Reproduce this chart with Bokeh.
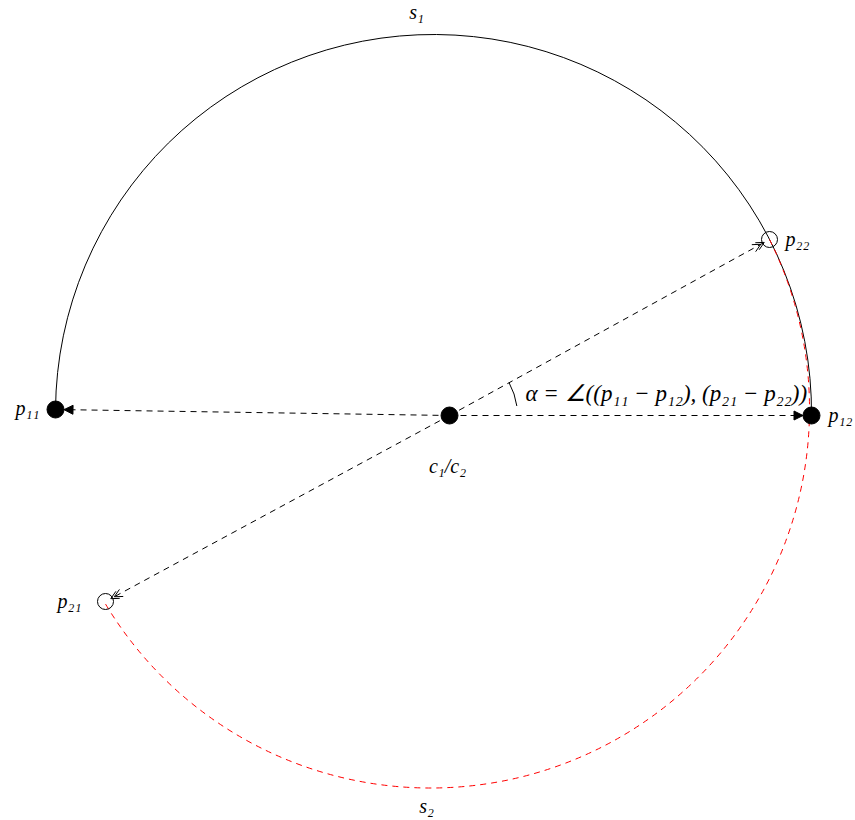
import numpy as np
from bokeh.plotting import figure
from bokeh.models import Range1d, Arrow, NormalHead, OpenHead
from bokeh.embed import file_html
from bokeh.resources import INLINE
from bokeh.core.properties import value

# ---- data (units = px, origin at c1/c2, y up) ----
c_xy = (0, 0)
p11_xy = (-394, 6)
p12_xy = (362, 0)
p21_xy = (-344, -186)
p22_xy = (320, 176)
s2_center = (-19, 6.5)

filled_names = ["c1/c2", "p11", "p12"]
filled_x = [c_xy[0], p11_xy[0], p12_xy[0]]
filled_y = [c_xy[1], p11_xy[1], p12_xy[1]]
open_names = ["p21", "p22"]
open_x = [p21_xy[0], p22_xy[0]]
open_y = [p21_xy[1], p22_xy[1]]

label_texts_center = ["s₁", "s₂", "c₁/c₂"]
label_texts_right = ["p₁₁", "p₂₁"]
label_texts_left = ["p₁₂", "p₂₂"]
angle_text = ["α = ∠((p₁₁ − p₁₂), (p₂₁ − p₂₂))"]

# ---- figure ----
p = figure(width=855, height=820, x_range=Range1d(-449, 406), y_range=Range1d(-405, 415),
           output_backend="svg", toolbar_location=None, min_border=0,
           x_axis_location=None, y_axis_location=None)
p.grid.visible = False
p.outline_line_color = None
p.background_fill_color = "white"

def ang(center, pt):
    return np.arctan2(pt[1] - center[1], pt[0] - center[0])

def unit(a, b):
    v = np.array(b, float) - np.array(a, float)
    return v / np.linalg.norm(v)

# s1: semicircle over the top from p12 to p11
m1 = ((p11_xy[0] + p12_xy[0]) / 2, (p11_xy[1] + p12_xy[1]) / 2)
r1 = np.hypot(p12_xy[0] - p11_xy[0], p12_xy[1] - p11_xy[1]) / 2
p.arc(x=[m1[0]], y=[m1[1]], radius=r1, start_angle=ang(m1, p12_xy), end_angle=ang(m1, p11_xy),
      direction="anticlock", line_color="black", line_width=1)

# s2: red dashed arc from p22 clockwise to p21
r2 = np.hypot(p22_xy[0] - s2_center[0], p22_xy[1] - s2_center[1])
p.arc(x=[s2_center[0]], y=[s2_center[1]], radius=r2, start_angle=ang(s2_center, p22_xy),
      end_angle=ang(s2_center, p21_xy), direction="clock", line_color="red",
      line_width=1, line_dash="6 5")

# angle marker
p.arc(x=[c_xy[0]], y=[c_xy[1]], radius=68, start_angle=0.14, end_angle=ang(c_xy, p22_xy),
      direction="anticlock", line_color="black", line_width=1)

# arrows c -> p11, c -> p12 (filled heads at dot edge)
for tgt in (p11_xy, p12_xy):
    u = unit(tgt, c_xy)
    end = np.array(tgt, float) + u * 8.5
    p.add_layout(Arrow(end=NormalHead(size=9, fill_color="black", line_color="black", line_width=1),
                       x_start=c_xy[0], y_start=c_xy[1], x_end=end[0], y_end=end[1],
                       line_color="black", line_width=1, line_dash="6 5"))

# arrows c -> p21, c -> p22 with double open heads
for tgt in (p21_xy, p22_xy):
    u = unit(tgt, c_xy)
    tip = np.array(tgt, float) + u * 6
    tip2 = tip + u * 4
    p.add_layout(Arrow(end=OpenHead(size=8, line_color="black", line_width=1),
                       x_start=c_xy[0], y_start=c_xy[1], x_end=tip[0], y_end=tip[1],
                       line_color="black", line_width=1, line_dash="6 5"))
    p.add_layout(Arrow(end=OpenHead(size=8, line_color="black", line_width=1),
                       x_start=c_xy[0], y_start=c_xy[1], x_end=tip2[0], y_end=tip2[1],
                       line_alpha=0))

# points
p.scatter(x=filled_x, y=filled_y, size=17, marker="circle", fill_color="black", line_color="black")
p.scatter(x=open_x, y=open_y, size=16, marker="circle", fill_alpha=0, line_color="black", line_width=1)

font = value("Liberation Serif")
fs = "20px"
p.text(x=[-33, -23, -2], y=[404, -390, -50], text=label_texts_center, text_font=font,
       text_font_style="italic", text_font_size=fs, text_align="center", text_baseline="middle")
p.text(x=[-410, -368], y=[8, -185], text=label_texts_right, text_font=font,
       text_font_style="italic", text_font_size=fs, text_align="right", text_baseline="middle")
p.text(x=[379, 336], y=[1, 177], text=label_texts_left, text_font=font,
       text_font_style="italic", text_font_size=fs, text_align="left", text_baseline="middle")
p.text(x=[76], y=[22], text=angle_text, text_font=font,
       text_font_style="italic", text_font_size="23px", text_align="left", text_baseline="middle")

open("out.html", "w").write(file_html(p, INLINE))
